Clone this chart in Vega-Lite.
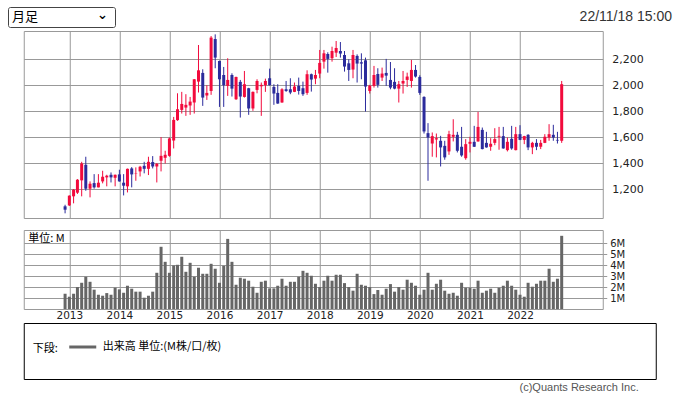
{
  "$schema": "https://vega.github.io/schema/vega-lite/v6.json",
  "background": "white",
  "padding": {"left": 7, "top": 6, "right": 7, "bottom": 0},
  "config": {
    "font": "DejaVu Sans",
    "view": {"stroke": "#999", "strokeWidth": 1},
    "axis": {"gridColor": "#999", "gridOpacity": 1, "gridWidth": 1, "labelColor": "#222", "labelFont": "DejaVu Sans", "labelFontSize": 11, "domain": false}
  },
  "datasets": {
    "px": [
      {"d": "2012/12/01", "o": 1067, "h": 1079, "l": 1013, "c": 1041, "v": 1.39},
      {"d": "2013/01/01", "o": 1074, "h": 1152, "l": 1070, "c": 1149, "v": 1.12},
      {"d": "2013/02/01", "o": 1144, "h": 1200, "l": 1090, "c": 1195, "v": 1.39},
      {"d": "2013/03/01", "o": 1172, "h": 1277, "l": 1162, "c": 1272, "v": 2.0},
      {"d": "2013/04/01", "o": 1267, "h": 1410, "l": 1144, "c": 1397, "v": 2.39},
      {"d": "2013/05/01", "o": 1387, "h": 1449, "l": 1187, "c": 1203, "v": 2.94},
      {"d": "2013/06/01", "o": 1203, "h": 1259, "l": 1136, "c": 1241, "v": 2.48},
      {"d": "2013/07/01", "o": 1246, "h": 1315, "l": 1203, "c": 1213, "v": 1.76},
      {"d": "2013/08/01", "o": 1213, "h": 1315, "l": 1213, "c": 1249, "v": 1.3},
      {"d": "2013/09/01", "o": 1259, "h": 1341, "l": 1244, "c": 1295, "v": 1.21},
      {"d": "2013/10/01", "o": 1290, "h": 1310, "l": 1221, "c": 1303, "v": 1.45},
      {"d": "2013/11/01", "o": 1310, "h": 1328, "l": 1251, "c": 1290, "v": 1.3},
      {"d": "2013/12/01", "o": 1287, "h": 1312, "l": 1221, "c": 1310, "v": 1.94},
      {"d": "2014/01/01", "o": 1313, "h": 1349, "l": 1257, "c": 1259, "v": 1.79},
      {"d": "2014/02/01", "o": 1249, "h": 1315, "l": 1151, "c": 1226, "v": 1.48},
      {"d": "2014/03/01", "o": 1221, "h": 1358, "l": 1174, "c": 1356, "v": 2.12},
      {"d": "2014/04/01", "o": 1359, "h": 1369, "l": 1213, "c": 1313, "v": 1.85},
      {"d": "2014/05/01", "o": 1321, "h": 1367, "l": 1264, "c": 1324, "v": 1.58},
      {"d": "2014/06/01", "o": 1336, "h": 1379, "l": 1297, "c": 1372, "v": 1.58},
      {"d": "2014/07/01", "o": 1379, "h": 1410, "l": 1321, "c": 1356, "v": 1.03},
      {"d": "2014/08/01", "o": 1356, "h": 1449, "l": 1308, "c": 1410, "v": 1.21},
      {"d": "2014/09/01", "o": 1408, "h": 1454, "l": 1359, "c": 1374, "v": 1.58},
      {"d": "2014/10/01", "o": 1374, "h": 1400, "l": 1251, "c": 1395, "v": 3.3},
      {"d": "2014/11/01", "o": 1418, "h": 1600, "l": 1336, "c": 1456, "v": 5.67},
      {"d": "2014/12/01", "o": 1441, "h": 1495, "l": 1397, "c": 1464, "v": 4.3},
      {"d": "2015/01/01", "o": 1456, "h": 1597, "l": 1449, "c": 1590, "v": 3.3},
      {"d": "2015/02/01", "o": 1574, "h": 1756, "l": 1513, "c": 1733, "v": 3.97},
      {"d": "2015/03/01", "o": 1731, "h": 1938, "l": 1726, "c": 1815, "v": 4.03},
      {"d": "2015/04/01", "o": 1810, "h": 1949, "l": 1782, "c": 1856, "v": 4.76},
      {"d": "2015/05/01", "o": 1828, "h": 1931, "l": 1764, "c": 1849, "v": 3.39},
      {"d": "2015/06/01", "o": 1844, "h": 1910, "l": 1772, "c": 1874, "v": 4.21},
      {"d": "2015/07/01", "o": 1867, "h": 2048, "l": 1782, "c": 2046, "v": 2.94},
      {"d": "2015/08/01", "o": 2028, "h": 2310, "l": 1944, "c": 2115, "v": 3.76},
      {"d": "2015/09/01", "o": 2095, "h": 2123, "l": 1841, "c": 1905, "v": 3.21},
      {"d": "2015/10/01", "o": 1921, "h": 2000, "l": 1887, "c": 1941, "v": 3.21},
      {"d": "2015/11/01", "o": 1956, "h": 2379, "l": 1926, "c": 2367, "v": 4.12},
      {"d": "2015/12/01", "o": 2356, "h": 2392, "l": 2131, "c": 2213, "v": 3.67},
      {"d": "2016/01/01", "o": 2187, "h": 2190, "l": 1833, "c": 2046, "v": 2.39},
      {"d": "2016/02/01", "o": 2079, "h": 2141, "l": 1833, "c": 2000, "v": 3.94},
      {"d": "2016/03/01", "o": 1995, "h": 2208, "l": 1918, "c": 2041, "v": 6.39},
      {"d": "2016/04/01", "o": 2079, "h": 2092, "l": 1913, "c": 1974, "v": 4.3},
      {"d": "2016/05/01", "o": 1892, "h": 2066, "l": 1887, "c": 2064, "v": 2.21},
      {"d": "2016/06/01", "o": 2026, "h": 2041, "l": 1751, "c": 1913, "v": 2.85},
      {"d": "2016/07/01", "o": 1910, "h": 2110, "l": 1905, "c": 2008, "v": 2.76},
      {"d": "2016/08/01", "o": 1977, "h": 1980, "l": 1772, "c": 1821, "v": 2.58},
      {"d": "2016/09/01", "o": 1821, "h": 1952, "l": 1803, "c": 1949, "v": 2.03},
      {"d": "2016/10/01", "o": 1964, "h": 2046, "l": 1938, "c": 2033, "v": 1.48},
      {"d": "2016/11/01", "o": 1992, "h": 2021, "l": 1764, "c": 2003, "v": 2.48},
      {"d": "2016/12/01", "o": 2000, "h": 2051, "l": 1949, "c": 2033, "v": 2.58},
      {"d": "2017/01/01", "o": 2054, "h": 2128, "l": 1998, "c": 2000, "v": 1.88},
      {"d": "2017/02/01", "o": 1987, "h": 2008, "l": 1849, "c": 1936, "v": 1.88},
      {"d": "2017/03/01", "o": 1941, "h": 2008, "l": 1857, "c": 1859, "v": 2.12},
      {"d": "2017/04/01", "o": 1867, "h": 1977, "l": 1865, "c": 1969, "v": 2.76},
      {"d": "2017/05/01", "o": 1969, "h": 2033, "l": 1949, "c": 1956, "v": 2.12},
      {"d": "2017/06/01", "o": 1969, "h": 2054, "l": 1931, "c": 1944, "v": 2.48},
      {"d": "2017/07/01", "o": 1949, "h": 2021, "l": 1947, "c": 1990, "v": 2.48},
      {"d": "2017/08/01", "o": 1995, "h": 2059, "l": 1928, "c": 1956, "v": 2.94},
      {"d": "2017/09/01", "o": 1977, "h": 2028, "l": 1918, "c": 1931, "v": 3.48},
      {"d": "2017/10/01", "o": 1941, "h": 2115, "l": 1926, "c": 2085, "v": 3.3},
      {"d": "2017/11/01", "o": 2085, "h": 2090, "l": 1951, "c": 2044, "v": 3.03},
      {"d": "2017/12/01", "o": 2051, "h": 2118, "l": 2008, "c": 2079, "v": 2.3},
      {"d": "2018/01/01", "o": 2090, "h": 2272, "l": 2054, "c": 2172, "v": 2.0},
      {"d": "2018/02/01", "o": 2182, "h": 2272, "l": 2128, "c": 2246, "v": 2.58},
      {"d": "2018/03/01", "o": 2241, "h": 2254, "l": 2097, "c": 2203, "v": 3.03},
      {"d": "2018/04/01", "o": 2208, "h": 2297, "l": 2182, "c": 2264, "v": 2.58},
      {"d": "2018/05/01", "o": 2251, "h": 2341, "l": 2218, "c": 2287, "v": 3.12},
      {"d": "2018/06/01", "o": 2264, "h": 2333, "l": 2213, "c": 2244, "v": 3.12},
      {"d": "2018/07/01", "o": 2233, "h": 2264, "l": 2105, "c": 2144, "v": 2.36},
      {"d": "2018/08/01", "o": 2169, "h": 2200, "l": 2033, "c": 2118, "v": 2.0},
      {"d": "2018/09/01", "o": 2121, "h": 2272, "l": 2054, "c": 2233, "v": 1.67},
      {"d": "2018/10/01", "o": 2226, "h": 2238, "l": 2021, "c": 2167, "v": 3.21},
      {"d": "2018/11/01", "o": 2177, "h": 2246, "l": 2046, "c": 2167, "v": 2.21},
      {"d": "2018/12/01", "o": 2192, "h": 2213, "l": 1797, "c": 1990, "v": 2.12},
      {"d": "2019/01/01", "o": 1956, "h": 2003, "l": 1936, "c": 1997, "v": 2.0},
      {"d": "2019/02/01", "o": 1995, "h": 2149, "l": 1982, "c": 2079, "v": 1.36},
      {"d": "2019/03/01", "o": 2087, "h": 2131, "l": 1982, "c": 2003, "v": 1.73},
      {"d": "2019/04/01", "o": 2059, "h": 2136, "l": 2033, "c": 2090, "v": 1.3},
      {"d": "2019/05/01", "o": 2095, "h": 2203, "l": 1995, "c": 2074, "v": 1.85},
      {"d": "2019/06/01", "o": 2041, "h": 2179, "l": 1969, "c": 1982, "v": 2.27},
      {"d": "2019/07/01", "o": 2026, "h": 2131, "l": 1969, "c": 1974, "v": 1.58},
      {"d": "2019/08/01", "o": 1974, "h": 2033, "l": 1867, "c": 2008, "v": 2.0},
      {"d": "2019/09/01", "o": 2013, "h": 2110, "l": 1936, "c": 2033, "v": 1.76},
      {"d": "2019/10/01", "o": 2041, "h": 2097, "l": 1987, "c": 2067, "v": 2.67},
      {"d": "2019/11/01", "o": 2033, "h": 2195, "l": 1982, "c": 2118, "v": 2.39},
      {"d": "2019/12/01", "o": 2118, "h": 2156, "l": 2059, "c": 2067, "v": 2.12},
      {"d": "2020/01/01", "o": 2064, "h": 2077, "l": 1926, "c": 1941, "v": 1.3},
      {"d": "2020/02/01", "o": 1910, "h": 1915, "l": 1628, "c": 1644, "v": 1.76},
      {"d": "2020/03/01", "o": 1631, "h": 1708, "l": 1264, "c": 1597, "v": 3.3},
      {"d": "2020/04/01", "o": 1551, "h": 1636, "l": 1449, "c": 1608, "v": 1.76},
      {"d": "2020/05/01", "o": 1582, "h": 1628, "l": 1444, "c": 1592, "v": 2.3},
      {"d": "2020/06/01", "o": 1572, "h": 1610, "l": 1374, "c": 1521, "v": 2.67},
      {"d": "2020/07/01", "o": 1533, "h": 1572, "l": 1426, "c": 1444, "v": 1.67},
      {"d": "2020/08/01", "o": 1490, "h": 1649, "l": 1464, "c": 1623, "v": 1.39},
      {"d": "2020/09/01", "o": 1603, "h": 1738, "l": 1567, "c": 1618, "v": 1.48},
      {"d": "2020/10/01", "o": 1618, "h": 1641, "l": 1482, "c": 1495, "v": 1.21},
      {"d": "2020/11/01", "o": 1526, "h": 1679, "l": 1449, "c": 1459, "v": 2.39},
      {"d": "2020/12/01", "o": 1438, "h": 1585, "l": 1426, "c": 1546, "v": 1.94},
      {"d": "2021/01/01", "o": 1549, "h": 1603, "l": 1482, "c": 1564, "v": 1.94},
      {"d": "2021/02/01", "o": 1564, "h": 1687, "l": 1524, "c": 1526, "v": 1.85},
      {"d": "2021/03/01", "o": 1567, "h": 1795, "l": 1565, "c": 1679, "v": 2.58},
      {"d": "2021/04/01", "o": 1656, "h": 1674, "l": 1506, "c": 1508, "v": 1.48},
      {"d": "2021/05/01", "o": 1556, "h": 1641, "l": 1519, "c": 1521, "v": 1.67},
      {"d": "2021/06/01", "o": 1526, "h": 1592, "l": 1495, "c": 1549, "v": 1.85},
      {"d": "2021/07/01", "o": 1556, "h": 1669, "l": 1538, "c": 1585, "v": 1.48},
      {"d": "2021/08/01", "o": 1603, "h": 1679, "l": 1503, "c": 1610, "v": 1.94},
      {"d": "2021/09/01", "o": 1608, "h": 1679, "l": 1511, "c": 1513, "v": 2.12},
      {"d": "2021/10/01", "o": 1500, "h": 1597, "l": 1490, "c": 1564, "v": 2.58},
      {"d": "2021/11/01", "o": 1587, "h": 1687, "l": 1503, "c": 1513, "v": 2.12},
      {"d": "2021/12/01", "o": 1500, "h": 1679, "l": 1498, "c": 1623, "v": 1.76},
      {"d": "2022/01/01", "o": 1623, "h": 1692, "l": 1577, "c": 1579, "v": 1.3},
      {"d": "2022/02/01", "o": 1579, "h": 1610, "l": 1546, "c": 1608, "v": 1.12},
      {"d": "2022/03/01", "o": 1618, "h": 1623, "l": 1500, "c": 1521, "v": 2.39},
      {"d": "2022/04/01", "o": 1521, "h": 1564, "l": 1469, "c": 1556, "v": 2.03},
      {"d": "2022/05/01", "o": 1556, "h": 1585, "l": 1500, "c": 1526, "v": 2.3},
      {"d": "2022/06/01", "o": 1526, "h": 1579, "l": 1508, "c": 1556, "v": 2.58},
      {"d": "2022/07/01", "o": 1556, "h": 1623, "l": 1554, "c": 1603, "v": 2.58},
      {"d": "2022/08/01", "o": 1597, "h": 1700, "l": 1572, "c": 1623, "v": 3.67},
      {"d": "2022/09/01", "o": 1618, "h": 1695, "l": 1572, "c": 1597, "v": 2.48},
      {"d": "2022/10/01", "o": 1579, "h": 1641, "l": 1551, "c": 1574, "v": 2.76},
      {"d": "2022/11/01", "o": 1572, "h": 2033, "l": 1556, "c": 2008, "v": 6.67}
    ]
  },
  "spacing": 2,
  "center": true,
  "resolve": {"legend": {"color": "independent"}},
  "vconcat": [
    {
      "spacing": 0,
      "hconcat": [
        {
          "width": 107,
          "height": 20,
          "view": {"stroke": "#444", "strokeWidth": 1, "cornerRadius": 2},
          "data": {"values": [{"t": "月足", "k": "⌄"}]},
          "layer": [
            {
              "mark": {"type": "text", "x": 0, "y": "height", "dx": 4, "dy": -10, "align": "left", "baseline": "middle", "font": "Noto Sans CJK JP", "fontSize": 13, "color": "#000"},
              "encoding": {"text": {"field": "t"}}
            },
            {
              "mark": {"type": "text", "x": "width", "y": "height", "dx": -7, "dy": -12, "align": "right", "baseline": "middle", "font": "DejaVu Sans", "fontSize": 13, "fontWeight": "bold", "color": "#000"},
              "encoding": {"text": {"field": "k"}}
            }
          ]
        },
        {
          "width": 556,
          "height": 20,
          "view": {"stroke": null},
          "data": {"values": [{"t": "22/11/18 15:00"}]},
          "mark": {"type": "text", "x": "width", "y": "height", "dy": -10, "align": "right", "baseline": "middle", "font": "Liberation Sans", "fontSize": 14, "color": "#333"},
          "encoding": {"text": {"field": "t"}}
        }
      ]
    },
    {
      "spacing": 1,
      "resolve": {"legend": {"color": "independent"}},
      "vconcat": [
        {
          "spacing": 10,
          "resolve": {"scale": {"x": "independent", "y": "independent"}},
          "vconcat": [
            {
              "width": 579,
              "height": 187,
              "data": {"name": "px"},
              "encoding": {
                "x": {
                  "field": "d", "type": "temporal",
                  "scale": {"domain": [{"year": 2012, "month": 3, "date": 11}, {"year": 2023, "month": 7, "date": 22}]},
                  "axis": {
                    "title": null, "labels": false, "ticks": false, "domain": false, "grid": true,
                    "values": [
                      {"year": 2013, "month": 1, "date": 1}, {"year": 2014, "month": 1, "date": 1},
                      {"year": 2015, "month": 1, "date": 1}, {"year": 2016, "month": 1, "date": 1},
                      {"year": 2017, "month": 1, "date": 1}, {"year": 2018, "month": 1, "date": 1},
                      {"year": 2019, "month": 1, "date": 1}, {"year": 2020, "month": 1, "date": 1},
                      {"year": 2021, "month": 1, "date": 1}, {"year": 2022, "month": 1, "date": 1}
                    ]
                  }
                },
                "y": {
                  "field": "l", "type": "quantitative",
                  "scale": {"domain": [977, 2418], "zero": false, "nice": false},
                  "axis": {"orient": "right", "title": null, "values": [1200, 1400, 1600, 1800, 2000, 2200], "format": ",.0f", "ticks": false, "labelPadding": 9, "grid": true}
                },
                "color": {"condition": {"test": "datum.c >= datum.o", "value": "#f20a3c"}, "value": "#2b2b9c"}
              },
              "layer": [
                {
                  "mark": {"type": "rule", "strokeWidth": 1},
                  "encoding": {"y2": {"field": "h"}}
                },
                {
                  "mark": {"type": "bar", "width": 3},
                  "encoding": {
                    "y": {"field": "o", "type": "quantitative", "scale": {"domain": [977, 2418], "zero": false, "nice": false},
                      "axis": {"orient": "right", "title": null, "values": [1200, 1400, 1600, 1800, 2000, 2200], "format": ",.0f", "ticks": false, "labelPadding": 9, "grid": true}},
                    "y2": {"field": "c"}
                  }
                }
              ]
            },
            {
              "width": 579,
              "height": 79,
              "data": {"name": "px"},
              "mark": {"type": "bar", "width": 3, "color": "#666"},
              "encoding": {
                "x": {
                  "field": "d", "type": "temporal",
                  "scale": {"domain": [{"year": 2012, "month": 3, "date": 11}, {"year": 2023, "month": 7, "date": 22}]},
                  "axis": {
                    "title": null, "format": "%Y", "ticks": false, "domain": false, "grid": true, "labelPadding": 1, "labelFontSize": 10.5,
                    "values": [
                      {"year": 2013, "month": 1, "date": 1}, {"year": 2014, "month": 1, "date": 1},
                      {"year": 2015, "month": 1, "date": 1}, {"year": 2016, "month": 1, "date": 1},
                      {"year": 2017, "month": 1, "date": 1}, {"year": 2018, "month": 1, "date": 1},
                      {"year": 2019, "month": 1, "date": 1}, {"year": 2020, "month": 1, "date": 1},
                      {"year": 2021, "month": 1, "date": 1}, {"year": 2022, "month": 1, "date": 1}
                    ]
                  }
                },
                "y": {
                  "field": "v", "type": "quantitative",
                  "scale": {"domain": [0, 7.2], "nice": false},
                  "axis": {
                    "orient": "right", "values": [1, 2, 3, 4, 5, 6], "labelExpr": "datum.value + 'M'", "labelOverlap": false, "labelFontSize": 10,
                    "ticks": true, "tickSize": 4, "tickColor": "#999", "labelPadding": 3, "grid": true,
                    "title": "単位: M", "titleAngle": 0, "titleX": -575, "titleY": 8, "titleAlign": "left", "titleBaseline": "middle",
                    "titleFont": "Noto Sans CJK JP", "titleFontSize": 11, "titleFontWeight": "normal", "titleColor": "#000"
                  }
                }
              }
            }
          ]
        },
        {
          "width": 632,
          "height": 56,
          "view": {"stroke": "#000", "strokeWidth": 1},
          "data": {"values": [{"s": "出来高 単位:(M株/口/枚)"}]},
          "mark": {"type": "point", "opacity": 0},
          "encoding": {
            "color": {
              "field": "s", "type": "nominal",
              "scale": {"range": ["#666"]},
              "legend": {
                "title": "下段:", "orient": "none", "legendX": 9, "legendY": 9, "titleOrient": "left",
                "titleAnchor": "middle", "titleBaseline": "top",
                "symbolType": "stroke", "symbolStrokeWidth": 3, "symbolSize": 729, "symbolOpacity": 1, "labelOffset": 5,
                "labelFont": "Noto Sans CJK JP", "labelFontSize": 11, "labelColor": "#000",
                "titleFont": "Noto Sans CJK JP", "titleFontSize": 11, "titleFontWeight": "normal", "titleColor": "#000", "titlePadding": 9
              }
            }
          },
          "title": {"text": "(c)Quants Research Inc.", "orient": "bottom", "anchor": "end", "offset": 3, "dx": -17, "font": "Liberation Sans", "fontSize": 11, "fontWeight": "normal", "color": "#555"}
        }
      ]
    }
  ]
}
